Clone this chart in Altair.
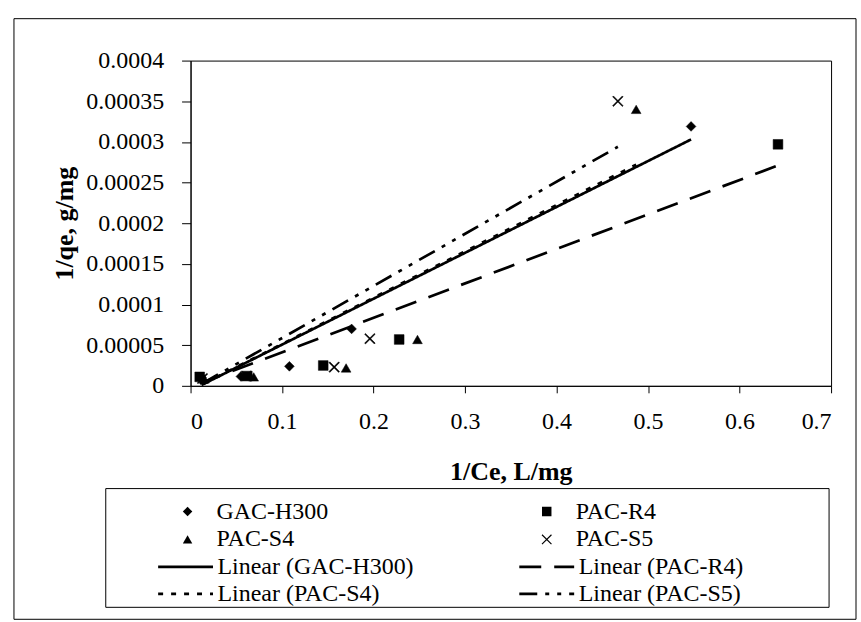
import altair as alt
import pandas as pd

# ---- data ----
series_names = ["GAC-H300", "PAC-S4", "PAC-R4", "PAC-S5"]
trend_names = ["Linear (GAC-H300)", "Linear (PAC-S4)", "Linear (PAC-R4)", "Linear (PAC-S5)"]

gac_x = [0.012, 0.055, 0.108, 0.176, 0.547]
gac_y = [0.0000100, 0.0000115, 0.0000240, 0.0000700, 0.0003190]
s4_x = [0.015, 0.069, 0.170, 0.248, 0.487]
s4_y = [0.0000085, 0.0000110, 0.0000220, 0.0000570, 0.0003400]
r4_x = [0.010, 0.062, 0.145, 0.228, 0.642]
r4_y = [0.0000110, 0.0000120, 0.0000250, 0.0000570, 0.0002970]
s5_x = [0.013, 0.061, 0.157, 0.196, 0.467]
s5_y = [0.0000090, 0.0000120, 0.0000230, 0.0000580, 0.0003500]

# fitted trend lines (end points)
gac_trend_x = [0.012, 0.547]
gac_trend_y = [0.0000010, 0.0003030]
s4_trend_x = [0.015, 0.487]
s4_trend_y = [0.0000030, 0.0002720]
r4_trend_x = [0.010, 0.642]
r4_trend_y = [0.0000030, 0.0002710]
s5_trend_x = [0.013, 0.467]
s5_trend_y = [0.0000030, 0.0002940]

x_ticks = [0, 0.1, 0.2, 0.3, 0.4, 0.5, 0.6, 0.7]
y_ticks = [0, 0.00005, 0.0001, 0.00015, 0.0002, 0.00025, 0.0003, 0.00035, 0.0004]

# ---- tables ----
pts = pd.concat([
    pd.DataFrame({"series": n, "x": xs, "y": ys})
    for n, xs, ys in zip(series_names, [gac_x, s4_x, r4_x, s5_x], [gac_y, s4_y, r4_y, s5_y])
])
trends = pd.concat([
    pd.DataFrame({"series": n, "x": xs, "y": ys})
    for n, xs, ys in zip(trend_names,
                         [gac_trend_x, s4_trend_x, r4_trend_x, s5_trend_x],
                         [gac_trend_y, s4_trend_y, r4_trend_y, s5_trend_y])
])

FONT = "Liberation Serif"
W, H = 642, 326

# thin filled "x" glyph (two crossing bars) so it shows in the legend too
X_GLYPH = ("M-0.915,-1.085L1.085,0.915L0.915,1.085L-1.085,-0.915Z"
           "M-1.085,0.915L0.915,-1.085L1.085,-0.915L-0.915,1.085Z")
shape_scale = alt.Scale(domain=series_names,
                        range=["diamond", "triangle-up", "square", X_GLYPH])
dash_scale = alt.Scale(domain=trend_names,
                       range=[[1, 0], [5, 8], [22, 13], [18, 8, 4, 8, 4, 8]])

x_enc = alt.X("x:Q", scale=alt.Scale(domain=[0, 0.7], nice=False),
              axis=alt.Axis(values=x_ticks, format="~f", title="1/Ce, L/mg", grid=False,
                            tickSize=7, labelPadding=17, titlePadding=25))
y_enc = alt.Y("y:Q", scale=alt.Scale(domain=[0, 0.0004], nice=False),
              axis=alt.Axis(values=y_ticks, format="~f", title="1/qe, g/mg", grid=False,
                            tickSize=9, labelPadding=18, titlePadding=8))

point_legend = alt.Legend(
    orient="none", legendX=-34, legendY=439.5, direction="vertical", columns=2,
    clipHeight=25, rowPadding=3, columnPadding=188, symbolOffset=19, labelOffset=17,
    symbolSize=90, symbolFillColor="black", symbolStrokeColor="black", symbolStrokeWidth=0.5,
    labelFont=FONT, labelFontSize=24, labelColor="black", labelLimit=400,
)
line_legend = alt.Legend(
    orient="none", legendX=-34, legendY=495, direction="vertical", columns=2,
    clipHeight=25, rowPadding=2, columnPadding=104, symbolType="stroke", symbolSize=3025,
    symbolStrokeWidth=2.6, symbolStrokeColor="black", symbolOffset=0, labelOffset=3,
    labelFont=FONT, labelFontSize=24, labelColor="black", labelLimit=400,
)

points = alt.Chart(pts).mark_point(filled=True, fill="black", stroke="black", strokeWidth=0.5,
                                   opacity=1, size=95).encode(
    x=x_enc, y=y_enc,
    shape=alt.Shape("series:N", scale=shape_scale, title=None, legend=point_legend),
)

lines = alt.Chart(trends).mark_line(color="black", strokeCap="butt", strokeWidth=2.7).encode(
    x=x_enc, y=y_enc,
    detail="series:N",
    strokeDash=alt.StrokeDash("series:N", scale=dash_scale, title=None, legend=line_legend),
)

frame_df = pd.DataFrame({"k": [0]})
outer_box = alt.Chart(frame_df).mark_rect(filled=False, stroke="black", strokeWidth=1).encode(
    x=alt.value(-177), x2=alt.value(667), y=alt.value(-42), y2=alt.value(560))
legend_box = alt.Chart(frame_df).mark_rect(filled=False, stroke="black", strokeWidth=1).encode(
    x=alt.value(-85), x2=alt.value(640), y=alt.value(429), y2=alt.value(548))

chart = alt.layer(outer_box, legend_box, lines, points).properties(
    width=W, height=H,
    padding={"left": 13, "top": 17, "right": 4, "bottom": 3},
).resolve_legend(shape="independent", strokeDash="independent").configure_view(
    stroke="black", strokeWidth=1
).configure_axis(
    domainColor="black", tickColor="black", labelColor="black", titleColor="black",
    labelFont=FONT, labelFontSize=24, titleFont=FONT, titleFontSize=26, titleFontWeight="bold",
)

chart.save("out.html", embed_options={"renderer": "svg", "actions": False})
